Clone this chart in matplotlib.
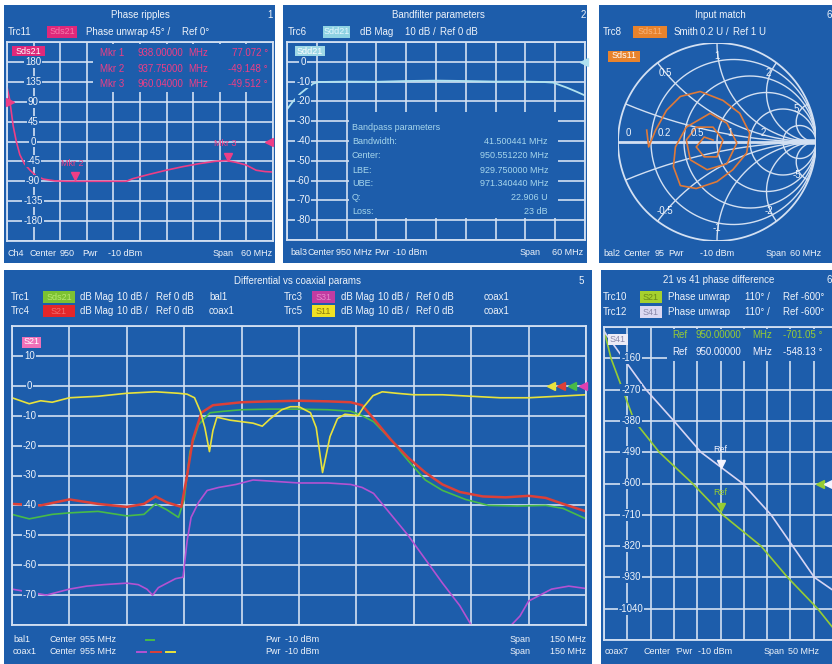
import numpy as np
import matplotlib.pyplot as plt
import matplotlib.transforms as mtransforms
from matplotlib.patches import Rectangle
from matplotlib.lines import Line2D

plt.rcParams['font.family'] = ['Liberation Sans', 'DejaVu Sans']

W, H = 832, 664
BLUE = '#1d5dab'
GRID = '#d3e0f2'
TXT = '#eef3fa'

# ---------------- data ----------------
# panel 1: phase ripples, Sds21 phase unwrap (deg)
p1_freq = [920.0, 920.6, 921.4, 922.1, 922.9, 923.9, 925.2, 926.6, 928.2, 930.8, 933.4,
           938.0, 942.8, 946.9, 948.4, 951.8, 955.9, 959.6, 963.4, 966.8, 969.4, 971.6,
           973.9, 976.2, 978.2, 980.0]
p1_phase = [123, 95, 35, 0, -30, -50, -65, -78, -85, -89, -90, -90, -90, -90, -84, -75,
            -65, -57, -50, -45, -43, -47, -53, -65, -68, -69]
p1_yticks = [180, 135, 90, 45, 0, -45, -90, -135, -180]
p1_mkr_freq = [935.3, 969.8]
p1_mkr_val = [-90, -45]
p1_mkr_name = ['Mkr 2', 'Mkr 3']
p1_mkr_rows = [('Mkr 1', '938.00000', '77.072 °'),
               ('Mkr 2', '937.75000', '-49.148 °'),
               ('Mkr 3', '960.04000', '-49.512 °')]
p1_ref_left = 90
p1_ref_right = 0

# panel 2: bandfilter, Sdd21 dB mag
p2_freq = [920.0, 921.2, 922.7, 924.2, 925.3, 926.4, 932.0, 938.0, 944.0, 950.0, 956.0,
           962.0, 968.0, 971.6, 973.6, 975.2, 976.3, 978.2, 980.0]
p2_mag = [-24, -20, -16, -13, -11, -10.2, -10, -10.1, -9.7, -9.5, -9.7, -10, -10, -10.2,
          -10.5, -12, -13, -15, -17]
p2_yticks = [0, -10, -20, -30, -40, -50, -60, -70, -80]
bp_labels = ['Bandwidth:', 'Center:', 'LBE:', 'UBE:', 'Q:', 'Loss:']
bp_values = ['41.500441 MHz', '950.551220 MHz', '929.750000 MHz', '971.340440 MHz',
             '22.906 U', '23 dB']

# panel 3: input match, Smith chart (reflection coefficient)
smith_re = [-0.71, -0.69, -0.62, -0.51, -0.37, -0.17, 0.06, 0.23, 0.33, 0.30, 0.16, 0.0,
            -0.21, -0.37, -0.44, -0.42, -0.31, -0.07, 0.10, 0.20, 0.10, -0.10, -0.27,
            -0.31, -0.21, -0.04, 0.06, 0.0, -0.13, -0.21, -0.13, -0.04]
smith_im = [0.12, -0.05, 0.12, 0.32, 0.46, 0.51, 0.42, 0.29, 0.09, -0.11, -0.28, -0.40,
            -0.47, -0.44, -0.25, -0.05, 0.15, 0.29, 0.19, -0.01, -0.22, -0.28, -0.18,
            0.02, 0.15, 0.15, 0.02, -0.15, -0.15, -0.05, 0.05, 0.02]
smith_r = [0.2, 0.5, 1, 2, 5]
smith_x = [0.2, 0.5, 1, 2, 5]

# panel 4: differential vs coaxial, dB mag
yel_freq = [880, 884.5, 887.5, 890.5, 895, 902.5, 910, 917.5, 923.5, 925.75, 927.7, 929.2,
            930.4, 931.6, 932.5, 933.55, 937, 940, 943, 945.4, 947.5, 950.5, 952.75, 955,
            958, 959.5, 961.15, 963.1, 965.05, 967, 970.45, 971.95, 974.35, 976.75, 980.5,
            985, 992.5, 1000, 1007.5, 1015, 1022.5, 1030]
yel_db = [-4, -6, -5, -5.5, -4, -3.5, -2.5, -2, -2.5, -2.8, -4, -8.5, -14, -22, -15, -10.5,
          -11.5, -12, -12.5, -13.5, -11, -8, -7, -7, -9, -14, -29, -17, -11, -9.5, -10, -7,
          -3.3, -2, -2.5, -3, -3, -3.5, -4, -4, -3.5, -3]
red_freq = [880, 887.5, 895, 902.5, 910, 914.5, 917.5, 920.5, 924.25, 925.75, 927.25,
            929.5, 932.5, 940, 947.5, 955, 962.5, 968.5, 971.5, 974.5, 979, 983.5, 988,
            992.5, 997, 1003, 1009, 1015, 1019.5, 1024, 1030]
red_db = [-39.5, -40, -38, -39.5, -40.5, -39.5, -37, -39, -40.5, -30, -18, -9, -6.5, -5.5,
          -5.2, -5, -5.2, -5.5, -6.5, -11, -18, -24, -29, -33, -35.5, -37, -37.3, -36.8,
          -37.5, -39.5, -42]
grn_freq = [880, 884.5, 890.5, 895, 902.5, 910, 914.5, 917.5, 920.5, 923.5, 925, 926.5,
            928.75, 931.75, 935.5, 940, 947.5, 955, 962.5, 968.5, 971.5, 974.5, 979, 983.5,
            988, 992.5, 998.5, 1004.5, 1012, 1019.5, 1024, 1030]
grn_db = [-43, -44.5, -43, -42.5, -42, -43.5, -43, -39.5, -41.5, -44, -38, -22, -13, -9,
          -8.5, -8, -7.8, -7.8, -8, -8.5, -10, -12, -18, -25, -31.5, -35, -38, -40, -40.2,
          -40, -41, -44.5]
pur_freq = [880, 884.5, 889, 895, 899.5, 904, 910, 913, 915.25, 916.75, 918.25, 920.5,
            922.75, 924.7, 925.75, 926.8, 928.75, 931, 934, 938.5, 943, 949, 955, 962.5,
            968.5, 971.5, 974.5, 979, 983.5, 988, 992.5, 997, 1000, 1001.5, 1007.5, 1010.5,
            1012.75, 1015, 1018, 1021, 1025.5, 1030]
pur_db = [-68, -69, -70, -68, -67, -66.5, -66, -66.5, -68, -70, -67.5, -66, -64.5, -64, -52,
          -44, -39, -35, -34, -33, -31.5, -32, -32.5, -32.5, -33, -34, -36, -43, -50, -58,
          -66, -73.5, -80, -83, -84, -80, -77, -72, -70, -68, -67, -67.8]
p4_yticks = [10, 0, -10, -20, -30, -40, -50, -60, -70]

# panel 5: 21 vs 41 phase difference (deg)
s21_freq = [925, 926.5, 929, 931.5, 936.85, 944, 950.45, 958.7, 964.4, 970.85, 975]
s21_phase = [-60, -160, -270, -380, -490, -600, -710, -820, -930, -1040, -1125]
s41_freq = [925, 929.15, 934, 940, 945.8, 954.75, 960.85, 965.5, 970.15, 975]
s41_phase = [-65, -160, -270, -380, -490, -600, -710, -820, -930, -985]
p5_yticks = [-160, -270, -380, -490, -600, -710, -820, -930, -1040]
ref_freq = 950.0
ref_vals = [-701.05, -548.13]
ref_level = -600

C_PINK = '#ee3e86'
C_CYAN = '#b0e2f0'
C_ORNG = '#e07a38'
C_YEL = '#e8e23c'
C_RED = '#dc4038'
C_GRN = '#48bb48'
C_PUR = '#b452d2'
C_LIME = '#96cc34'
C_LAV = '#d8d6f4'

# ---------------- helpers ----------------
fig = plt.figure(figsize=(W / 100, H / 100), dpi=100, facecolor='white')


def frect(x0, y0, x1, y1):
    return [x0 / W, 1 - y1 / H, (x1 - x0) / W, (y1 - y0) / H]


def ftext(x, y, s, color=TXT, size=7, **kw):
    kw.setdefault('va', 'center')
    return fig.text(x / W, 1 - y / H, s, color=color, fontsize=size, **kw)


def panel(x0, y0, x1, y1):
    fig.add_artist(Rectangle((x0 / W, 1 - y1 / H), (x1 - x0) / W, (y1 - y0) / H,
                             transform=fig.transFigure, fc=BLUE, ec='none', zorder=-10))


def badge(x0, x1, y, s, fc, tc, h=11):
    fig.add_artist(Rectangle((x0 / W, 1 - (y + h / 2) / H), (x1 - x0) / W, h / H,
                             transform=fig.transFigure, fc=fc, ec='none', zorder=2))
    ftext((x0 + x1) / 2, y, s, color=tc, size=6.5, ha='center', zorder=3)


def fdash(x0, x1, y, color):
    fig.add_artist(Line2D([x0 / W, x1 / W], [1 - y / H, 1 - y / H], color=color, lw=1.4,
                          transform=fig.transFigure))


def grid_axes(box, xlim, ylim):
    ax = fig.add_axes(frect(*box))
    ax.set_facecolor(BLUE)
    ax.set_xlim(xlim)
    ax.set_ylim(ylim)
    ax.set_xticks(np.linspace(xlim[0], xlim[1], 11))
    ax.set_yticks(np.linspace(ylim[0], ylim[1], 11))
    ax.tick_params(length=0, labelbottom=False, labelleft=False)
    ax.grid(True, color=GRID, lw=1.2)
    ax.set_axisbelow(True)
    for s in ax.spines.values():
        s.set_color(GRID)
        s.set_linewidth(1.3)
    return ax


def mask(ax, x0, y0, x1, y1):
    pos = ax.get_position()
    ax0 = (x0 / W - pos.x0) / pos.width
    ay0 = ((1 - y1 / H) - pos.y0) / pos.height
    ax.add_patch(Rectangle((ax0, ay0), (x1 - x0) / W / pos.width, (y1 - y0) / H / pos.height,
                           transform=ax.transAxes, fc=BLUE, ec='none', zorder=1))


def ylabels(ax, xfrac, vals):
    for v in vals:
        ax.text(xfrac, v, f'{v:g}', transform=ax.get_yaxis_transform(), ha='center',
                va='center', color=TXT, fontsize=7, zorder=3,
                bbox=dict(boxstyle='square,pad=0.1', fc=BLUE, ec='none'))


def edge_tri(ax, xfrac, v, color, m='<'):
    ax.plot([xfrac], [v], marker=m, ms=6, color=color, transform=ax.get_yaxis_transform(),
            clip_on=False, zorder=4)


# ---------------- panel 1 ----------------
panel(4, 5, 275, 263)
ax1 = grid_axes((7, 42, 273, 241), (920, 980), (-225, 225))
mask(ax1, 93, 44, 271.5, 92)
ax1.plot(p1_freq, p1_phase, color=C_PINK, lw=1.2, zorder=2)
up = mtransforms.offset_copy(ax1.transData, fig=fig, y=3.5, units='points')
ax1.plot(p1_mkr_freq, p1_mkr_val, 'v', color=C_PINK, ms=6, transform=up, zorder=4)
for f, v, n in zip(p1_mkr_freq, p1_mkr_val, p1_mkr_name):
    ax1.annotate(n, (f, v), xytext=(-2, 13), textcoords='offset points', ha='center',
                 va='center', color=C_PINK, fontsize=6.5)
edge_tri(ax1, 0.01, p1_ref_left, C_PINK, '>')
edge_tri(ax1, 0.985, p1_ref_right, C_PINK, '<')
ylabels(ax1, 0.098, p1_yticks)
ftext(140, 15, 'Phase ripples', ha='center')
ftext(270, 15, '1', ha='center')
ftext(8, 32, 'Trc11')
badge(47, 77, 32, 'Sds21', '#e0287a', '#f57cac', h=12)
ftext(86, 32, 'Phase unwrap')
ftext(150, 32, '45° /')
ftext(182, 32, 'Ref 0°')
badge(12, 45, 51, 'Sds21', '#e0287a', '#ffffff', h=10)
for i, (a, b, c) in enumerate(p1_mkr_rows):
    y = 53 + 15.5 * i
    ftext(100, y, a, color=C_PINK)
    ftext(137, y, b, color=C_PINK)
    ftext(188, y, 'MHz', color=C_PINK)
    ftext(268, y, c, color=C_PINK, ha='right')
ftext(8, 253, 'Ch4', size=6.5)
ftext(30, 253, 'Center', size=6.5)
ftext(60, 253, '950', size=6.5)
ftext(82, 253, 'Pwr', size=6.5)
ftext(108, 253, '-10 dBm', size=6.5)
ftext(213, 253, 'Span', size=6.5)
ftext(272, 253, '60 MHz', size=6.5, ha='right')

# ---------------- panel 2 ----------------
panel(283, 5, 587, 263)
ax2 = grid_axes((287, 42, 585, 240), (920, 980), (-90, 10))
mask(ax2, 349, 112, 558, 218)
ax2.plot(p2_freq, p2_mag, color=C_CYAN, lw=1.3, zorder=2)
edge_tri(ax2, 0.995, 0, C_CYAN)
ylabels(ax2, 0.054, p2_yticks)
ftext(438, 15, 'Bandfilter parameters', ha='center')
ftext(583, 15, '2', ha='center')
ftext(288, 32, 'Trc6')
badge(323, 350, 32, 'Sdd21', '#8fd3e3', '#e6f8ff', h=12)
ftext(360, 32, 'dB Mag')
ftext(405, 32, '10 dB /')
ftext(440, 32, 'Ref 0 dB')
badge(295, 325, 51, 'Sdd21', '#9ed8e6', '#ffffff', h=10)
ftext(352, 127, 'Bandpass parameters', color='#a6d6ec', size=6.5)
for i, (a, b) in enumerate(zip(bp_labels, bp_values)):
    y = 142 + 14 * i
    ftext(352, y, a, color='#a6d6ec', size=6.5)
    ftext(548, y, b, color='#a6d6ec', size=6.5, ha='right')
ftext(290, 252, 'bal3', size=6.5)
ftext(307, 252, 'Center', size=6.5)
ftext(336, 252, '950 MHz', size=6.5)
ftext(374, 252, 'Pwr', size=6.5)
ftext(393, 252, '-10 dBm', size=6.5)
ftext(520, 252, 'Span', size=6.5)
ftext(583, 252, '60 MHz', size=6.5, ha='right')

# ---------------- panel 3 ----------------
panel(599, 5, 840, 263)
ax3 = fig.add_axes(frect(618, 43, 816, 241))
ax3.set_xlim(-1, 1)
ax3.set_ylim(-1, 1)
ax3.axis('off')
t = np.linspace(0, 2 * np.pi, 400)
ax3.plot(np.cos(t), np.sin(t), color=GRID, lw=1.3)
for r in smith_r:
    c, rad = r / (1 + r), 1 / (1 + r)
    ax3.plot(c + rad * np.cos(t), rad * np.sin(t), color=GRID, lw=1.0)
rr = np.concatenate([np.linspace(0, 1, 80), np.logspace(0, 3, 120)])
for x in smith_x:
    for sx in (x, -x):
        g = (rr + 1j * sx - 1) / (rr + 1j * sx + 1)
        ax3.plot(g.real, g.imag, color=GRID, lw=1.0)
ax3.plot([-1, 1], [0, 0], color=GRID, lw=2.0)
ax3.plot([0.8, 1.0], [0, 0], color=GRID, lw=4.0)
ax3.plot(smith_re, smith_im, color=C_ORNG, lw=1.2)
ax3.text(-0.9, 0.09, '0', color=TXT, fontsize=7, ha='center', va='center')
for r in [0.2, 0.5, 1, 2]:
    ax3.text((r - 1) / (r + 1) + 0.13, 0.09, f'{r:g}', color=TXT, fontsize=7,
             ha='center', va='center')
for x in [0.5, 1, 2, 5]:
    for sx in (x, -x):
        g = (1j * sx - 1) / (1j * sx + 1) * 0.87
        ax3.text(g.real, g.imag, f'{sx:g}', color=TXT, fontsize=7, ha='center', va='center')
ftext(720, 15, 'Input match', ha='center')
ftext(829, 15, '6', ha='center')
ftext(603, 32, 'Trc8')
badge(633, 667, 32, 'Sds11', '#e8832c', '#f8b47a', h=12)
ftext(674, 32, 'Smith')
ftext(700, 32, '0.2 U /')
ftext(733, 32, 'Ref 1 U')
badge(608, 640, 56, 'Sds11', '#e8832c', '#ffffff', h=11)
ftext(603, 253, 'bal2', size=6.5)
ftext(623, 253, 'Center', size=6.5)
ftext(655, 253, '95', size=6.5)
ftext(668, 253, 'Pwr', size=6.5)
ftext(700, 253, '-10 dBm', size=6.5)
ftext(766, 253, 'Span', size=6.5)
ftext(790, 253, '60 MHz', size=6.5)

# ---------------- panel 4 ----------------
panel(4, 270, 592, 664)
ax4 = grid_axes((12, 326, 586, 625), (880, 1030), (-80, 20))
ax4.plot(pur_freq, pur_db, color=C_PUR, lw=1.2, zorder=2)
ax4.plot(grn_freq, grn_db, color=C_GRN, lw=1.2, zorder=2)
ax4.plot(red_freq, red_db, color=C_RED, lw=1.8, zorder=2)
ax4.plot(yel_freq, yel_db, color=C_YEL, lw=1.2, zorder=2)
for xf, c in zip([0.939, 0.956, 0.976, 0.995], [C_YEL, C_RED, C_GRN, '#e040b0']):
    edge_tri(ax4, xf, 0, c)
ylabels(ax4, 0.031, p4_yticks)
ftext(297, 281, 'Differential vs coaxial params', ha='center')
ftext(581, 281, '5', ha='center')
rows = [(297, 'Trc1', 'Sds21', '#7cc232', '#b8e870', 'bal1',
         'Trc3', 'S31', '#c23ca2', '#e888cc', 'coax1'),
        (311, 'Trc4', 'S21', '#e4262a', '#f07070', 'coax1',
         'Trc5', 'S11', '#f0e224', '#8a7a10', 'coax1')]
for y, ta, ba, fa, ca, ea, tb, bb, fb, cb, eb in rows:
    ftext(11, y, ta)
    badge(43, 75, y, ba, fa, ca, h=12)
    ftext(80, y, 'dB Mag')
    ftext(117, y, '10 dB /')
    ftext(156, y, 'Ref 0 dB')
    ftext(209, y, ea)
    ftext(284, y, tb)
    badge(312, 335, y, bb, fb, cb, h=12)
    ftext(341, y, 'dB Mag')
    ftext(378, y, '10 dB /')
    ftext(416, y, 'Ref 0 dB')
    ftext(484, y, eb)
badge(22, 41, 342, 'S21', '#f070b8', '#ffffff', h=11)
for y, name in [(640, 'bal1'), (652, 'coax1')]:
    ftext(13, y, name, size=6.5)
    ftext(50, y, 'Center', size=6.5)
    ftext(80, y, '955 MHz', size=6.5)
    ftext(265, y, 'Pwr', size=6.5)
    ftext(285, y, '-10 dBm', size=6.5)
    ftext(510, y, 'Span', size=6.5)
    ftext(586, y, '150 MHz', size=6.5, ha='right')
fdash(146, 154, 640, C_GRN)
fdash(137, 146, 652, C_PUR)
fdash(151, 161, 652, C_RED)
fdash(166, 175, 652, C_YEL)

# ---------------- panel 5 ----------------
panel(601, 270, 840, 664)
ax5 = grid_axes((604, 327, 837, 640), (925, 975), (-1150, -50))
mask(ax5, 667, 329, 840, 361)
ax5.plot(s21_freq, s21_phase, color=C_LIME, lw=1.2, zorder=2)
ax5.plot(s41_freq, s41_phase, color=C_LAV, lw=1.2, zorder=2)
up5 = mtransforms.offset_copy(ax5.transData, fig=fig, y=3.5, units='points')
for v, c in zip(ref_vals, [C_LIME, '#f4f4ff']):
    ax5.plot([ref_freq], [v], 'v', color=c, ms=6, transform=up5, zorder=4)
    ax5.annotate('Ref', (ref_freq, v), xytext=(0, 14), textcoords='offset points',
                 ha='center', va='center', color=c, fontsize=6.5)
edge_tri(ax5, 0.927, ref_level, C_LIME)
edge_tri(ax5, 0.961, ref_level, '#f4f4ff')
ylabels(ax5, 0.116, p5_yticks)
ftext(719, 280, '21 vs 41 phase difference', ha='center')
ftext(829, 280, '6', ha='center')
for y, tr, bn, fc, tc in [(297, 'Trc10', 'S21', '#a6d02e', '#6a8a18'),
                          (312, 'Trc12', 'S41', '#dcd8f2', '#8a88aa')]:
    ftext(603, y, tr)
    badge(640, 662, y, bn, fc, tc, h=12)
    ftext(668, y, 'Phase unwrap')
    ftext(745, y, '110° /')
    ftext(783, y, 'Ref -600°')
badge(608, 628, 339, 'S41', '#ecebf6', '#8a88aa', h=11)
for y, v, c in [(335, ref_vals[0], C_LIME), (352, ref_vals[1], '#f4f4ff')]:
    ftext(672, y, 'Ref', color=c)
    ftext(696, y, '950.00000', color=c)
    ftext(752, y, 'MHz', color=c)
    ftext(783, y, f'{v:.2f} °', color=c)
ftext(605, 652, 'coax7', size=6.5)
ftext(643, 652, 'Center', size=6.5)
ftext(675, 652, "'Pwr", size=6.5)
ftext(698, 652, '-10 dBm', size=6.5)
ftext(764, 652, 'Span', size=6.5)
ftext(788, 652, '50 MHz', size=6.5)

fig.savefig('out.png', dpi=100, facecolor='white')
